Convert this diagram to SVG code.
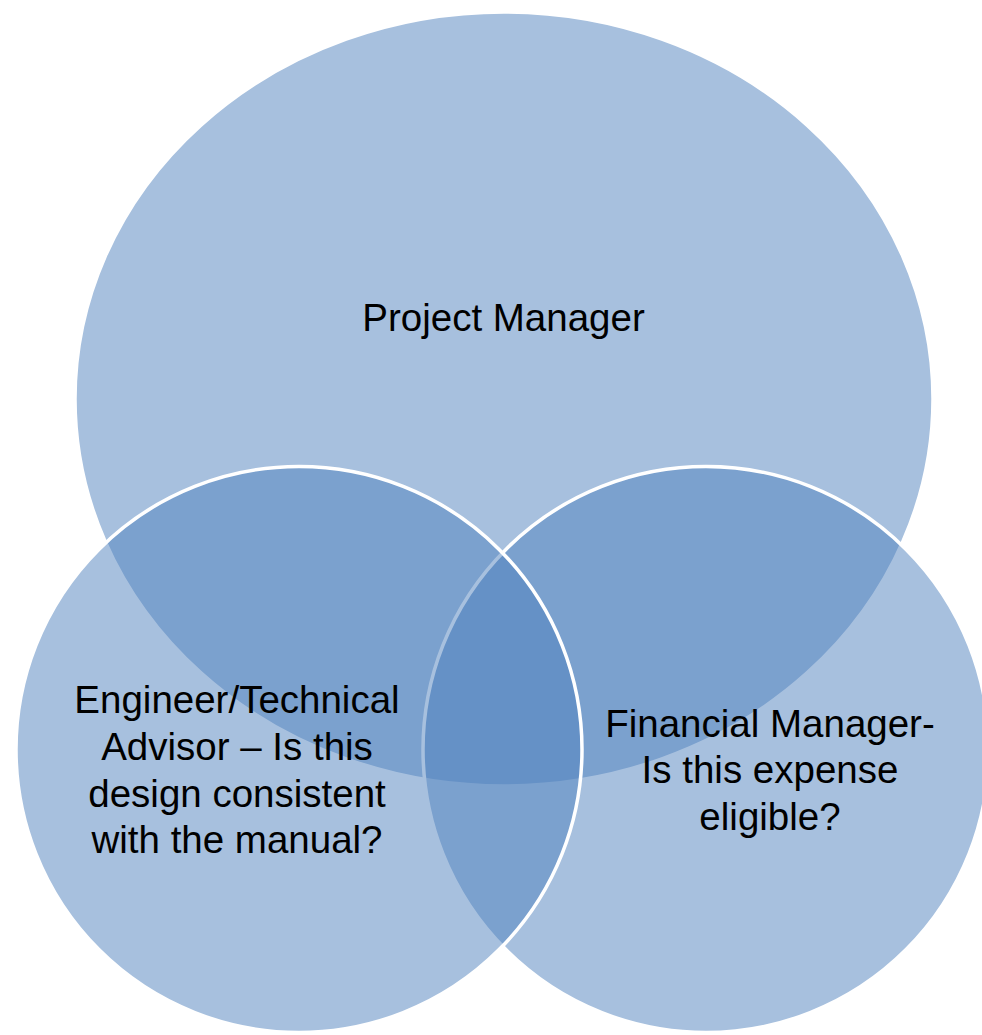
<svg xmlns="http://www.w3.org/2000/svg" width="982" height="1035" viewBox="0 0 982 1035">
<style>
.set{fill:#4F81BD;fill-opacity:0.5;stroke:#FFFFFF;stroke-width:3.5}
.lbl{font-family:"Liberation Sans",Arial,sans-serif;font-size:38.5px;fill:#000000;text-anchor:middle}
</style>
<rect width="982" height="1035" fill="#FFFFFF"/>
<g id="project-manager">
<ellipse class="set" cx="504" cy="399" rx="429" ry="387"/>
</g>
<g id="financial-manager">
<circle class="set" cx="706" cy="749.5" r="283"/>
</g>
<g id="engineer">
<circle class="set" cx="299" cy="749.5" r="283"/>
</g>
<g id="connectors"></g>
<g id="labels">
<text class="lbl" x="503.5" y="331">Project Manager</text>
<text class="lbl" x="237" y="713">Engineer/Technical</text>
<text class="lbl" x="237" y="760">Advisor – Is this</text>
<text class="lbl" x="237" y="807">design consistent</text>
<text class="lbl" x="237" y="853">with the manual?</text>
<text class="lbl" x="770" y="737">Financial Manager-</text>
<text class="lbl" x="770" y="783">Is this expense</text>
<text class="lbl" x="770" y="830">eligible?</text>
</g>
</svg>
